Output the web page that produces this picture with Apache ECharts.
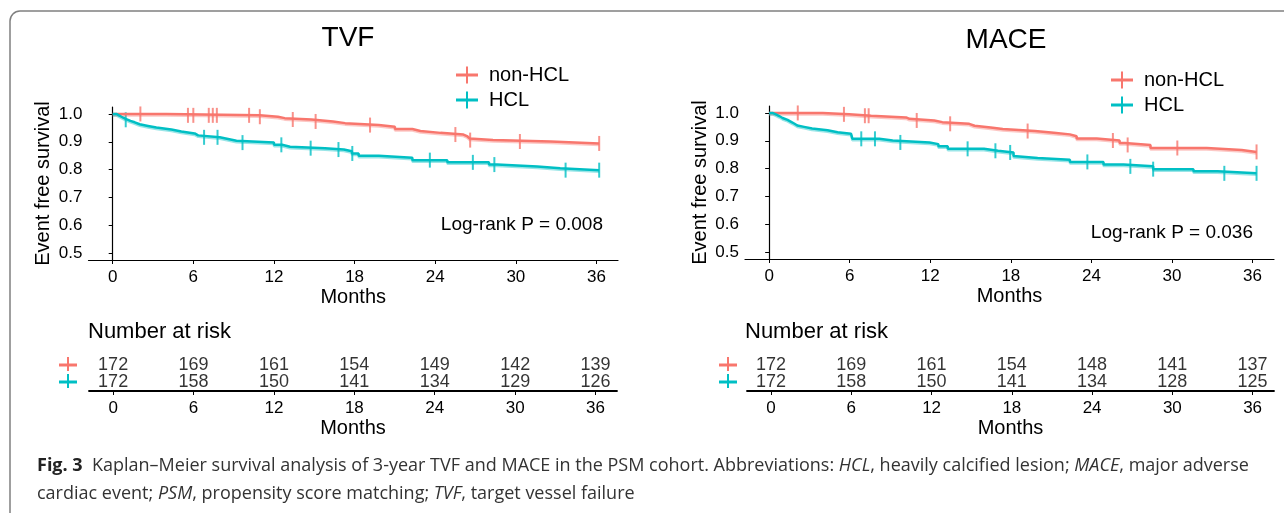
<!DOCTYPE html>
<html>
<head>
<meta charset="utf-8">
<script src="https://cdn.jsdelivr.net/npm/echarts@6/dist/echarts.min.js"></script>
<style>
  html, body { margin: 0; padding: 0; background: #fff; }
  #chart { width: 1284px; height: 513px; }
</style>
</head>
<body>
<div id="chart"></div>
<script>
// Kaplan-Meier steps, [month, survival]
var tvfNonHcl = [[0,1],[4.0,0.995],[10.95,0.990],[12.3,0.985],[12.8,0.980],[14.8,0.973],[16.4,0.967],[17.3,0.960],[19.8,0.954],[21.0,0.946],[22.3,0.939],[22.9,0.932],[24.4,0.926],[26.1,0.919],[26.4,0.912],[26.55,0.906],[28.3,0.901],[32.6,0.894],[36.2,0.894]];
var tvfHcl = [[0,1],[0.27,0.995],[0.47,0.990],[0.65,0.984],[0.89,0.979],[1.14,0.975],[1.32,0.970],[1.64,0.963],[2.01,0.957],[2.63,0.951],[3.25,0.944],[4.37,0.937],[5.11,0.930],[6.1,0.923],[6.36,0.916],[7.97,0.910],[8.59,0.904],[9.21,0.897],[12.0,0.889],[12.6,0.882],[13.2,0.877],[15.8,0.872],[17.2,0.866],[17.8,0.858],[18.3,0.850],[19.8,0.843],[22.3,0.834],[24.9,0.826],[28.0,0.818],[28.6,0.811],[31.6,0.805],[33.3,0.798],[36.2,0.798]];
var maceNonHcl = [[0,1],[4.0,0.995],[5.96,0.990],[7.6,0.984],[10.2,0.979],[10.45,0.973],[12.3,0.967],[12.9,0.961],[14.9,0.954],[15.3,0.948],[16.5,0.942],[17.4,0.935],[19.8,0.929],[21.2,0.923],[22.4,0.916],[22.9,0.908],[24.4,0.901],[26.1,0.892],[26.5,0.885],[28.4,0.874],[32.6,0.867],[35.2,0.860],[36.3,0.860]];
var maceHcl = [[0,1],[0.25,0.995],[0.5,0.989],[0.75,0.982],[1.0,0.975],[1.37,0.969],[1.6,0.962],[1.86,0.955],[2.1,0.950],[2.6,0.944],[3.2,0.938],[4.35,0.931],[5.1,0.925],[6.1,0.918],[6.2,0.907],[8.2,0.901],[9.2,0.894],[11.95,0.888],[12.6,0.880],[13.3,0.871],[16.0,0.864],[17.05,0.858],[18.2,0.845],[18.3,0.838],[20.0,0.832],[22.4,0.824],[24.9,0.815],[26.4,0.808],[28.6,0.798],[31.6,0.790],[33.4,0.783],[36.3,0.783]];

// censored times (months)
var tvfNonCens = [2.06,5.6,6.0,7.15,7.45,7.75,10.15,10.95,13.4,15.1,19.15,25.5,26.6,30.3,36.2];
var tvfHclCens = [0.97,6.8,7.8,9.66,12.55,14.73,16.8,17.83,23.6,26.8,28.4,33.7,36.2];
var maceNonCens = [2.13,5.57,7.13,7.41,10.99,13.48,19.25,25.6,26.7,30.4,36.3];
var maceHclCens = [6.86,7.88,9.77,14.78,16.85,17.95,23.7,26.9,28.6,33.9,36.3];

// number at risk
var months = [0, 6, 12, 18, 24, 30, 36];
var tvfRiskNon = [172,169,161,154,149,142,139];
var tvfRiskHcl = [172,158,150,141,134,129,126];
var maceRiskNon = [172,169,161,154,148,141,137];
var maceRiskHcl = [172,158,150,141,134,128,125];

var yTicks = [0.5, 0.6, 0.7, 0.8, 0.9, 1.0];
var groups = ['non-HCL', 'HCL'];

var RED = '#F8766D', TEAL = '#00BFC4';
var FONT = '"Liberation Sans", Arial, sans-serif';
var CAPFONT = '"Open Sans", sans-serif';

function survAt(curve, t) {
   var s = 1;
   for (var i = 0; i < curve.length; i++) {
      if (curve[i][0] <= t) s = curve[i][1];
   }
   return s;
}

function censPoints(curve, times) {
   return times.map(function (t) { return [t, survAt(curve, t)]; });
}

function riskPoints(values, row) {
   return values.map(function (v, i) { return [months[i], row, v]; });
}

function kmXAxis(gi) {
   return {
      type: 'value', gridIndex: gi, min: -1.8, max: 37.6,
      axisLine: { show: true, onZero: false, lineStyle: { color: '#000', width: 1.2 } },
      axisTick: { show: true, customValues: months, length: 4, lineStyle: { color: '#000' } },
      axisLabel: { customValues: months, color: '#000', fontSize: 17, fontFamily: FONT, margin: 9 },
      splitLine: { show: false },
      name: 'Months', nameLocation: 'middle', nameGap: 27,
      nameTextStyle: { color: '#000', fontSize: 20, fontFamily: FONT }
   };
}

function kmYAxis(gi) {
   return {
      type: 'value', gridIndex: gi, min: 0.475, max: 1.025,
      axisLine: { show: true, lineStyle: { color: '#000', width: 1.2 } },
      axisTick: { show: true, customValues: yTicks, length: 4, lineStyle: { color: '#000' } },
      axisLabel: {
         customValues: yTicks, color: '#000', fontSize: 17, fontFamily: FONT, margin: 6,
         formatter: function (v) { return v.toFixed(1); }
      },
      splitLine: { show: false },
      name: 'Event free survival', nameLocation: 'middle', nameGap: 35, nameRotate: 90,
      nameTextStyle: { color: '#000', fontSize: 20, fontFamily: FONT }
   };
}

function riskXAxis(gi) {
   var ax = kmXAxis(gi);
   ax.axisLine.lineStyle.width = 1.8;
   return ax;
}

function riskYAxis(gi) {
   return {
      type: 'category', gridIndex: gi, data: ['HCL', 'non-HCL'],
      axisLine: { show: false }, axisTick: { show: false }, axisLabel: { show: false },
      splitLine: { show: false }
   };
}

function kmLine(name, data, color, gi) {
   return {
      type: 'line', name: name, step: 'end', data: data,
      xAxisIndex: gi, yAxisIndex: gi, showSymbol: false, silent: true,
      itemStyle: { color: color },
      lineStyle: { color: color, width: 2.5, shadowColor: color + '66', shadowOffsetY: 1.5, shadowBlur: 0 }
   };
}

function censMarks(name, data, color, gi) {
   return {
      type: 'scatter', name: name + ' censored', data: data,
      xAxisIndex: gi, yAxisIndex: gi, symbol: 'rect', symbolSize: [2, 15],
      itemStyle: { color: color }, silent: true
   };
}

function riskNumbers(data, gi) {
   return {
      type: 'scatter', data: data, xAxisIndex: gi, yAxisIndex: gi, symbolSize: 0, silent: true,
      label: {
         show: true, position: 'inside', color: '#000', fontSize: 18, fontFamily: FONT,
         formatter: function (p) { return p.value[2]; }
      }
   };
}

var plusPath = 'path://M0,7L22,7L22,10L0,10Z M10,0L12,0L12,17L10,17Z';

function legendBox(left, top) {
   return {
      data: groups, orient: 'vertical', left: left, top: top,
      icon: plusPath, itemWidth: 22, itemHeight: 17, itemGap: 5,
      selectedMode: false,
      textStyle: { color: '#000', fontSize: 20, fontFamily: FONT, padding: [0, 0, 0, 6] }
   };
}

function plusKey(x, y, color) {
   return {
      type: 'group', children: [
         { type: 'rect', shape: { x: x - 9, y: y - 1.5, width: 18, height: 3 }, style: { fill: color } },
         { type: 'rect', shape: { x: x - 1, y: y - 8, width: 2, height: 14 }, style: { fill: color } }
      ]
   };
}

function label(text, x, y, size, align) {
   return {
      type: 'text', x: x, y: y,
      style: { text: text, fill: '#000', font: size + 'px ' + FONT, textAlign: align || 'center', textVerticalAlign: 'middle' }
   };
}

var chart = echarts.init(document.getElementById('chart'));

chart.setOption({
   animation: false,
   grid: [
      { left: 88.5, top: 107, width: 529.5, height: 153 },
      { left: 745, top: 106, width: 529, height: 153 },
      { left: 89, top: 356, width: 528, height: 35 },
      { left: 747, top: 356, width: 527, height: 35 }
   ],
   xAxis: [kmXAxis(0), kmXAxis(1), riskXAxis(2), riskXAxis(3)],
   yAxis: [kmYAxis(0), kmYAxis(1), riskYAxis(2), riskYAxis(3)],
   legend: [legendBox(451, 60), legendBox(1106, 65)],
   series: [
      kmLine('non-HCL', tvfNonHcl, RED, 0),
      kmLine('HCL', tvfHcl, TEAL, 0),
      censMarks('non-HCL', censPoints(tvfNonHcl, tvfNonCens), RED, 0),
      censMarks('HCL', censPoints(tvfHcl, tvfHclCens), TEAL, 0),
      kmLine('non-HCL', maceNonHcl, RED, 1),
      kmLine('HCL', maceHcl, TEAL, 1),
      censMarks('non-HCL', censPoints(maceNonHcl, maceNonCens), RED, 1),
      censMarks('HCL', censPoints(maceHcl, maceHclCens), TEAL, 1),
      riskNumbers(riskPoints(tvfRiskNon, 1).concat(riskPoints(tvfRiskHcl, 0)), 2),
      riskNumbers(riskPoints(maceRiskNon, 1).concat(riskPoints(maceRiskHcl, 0)), 3)
   ],
   graphic: [
      {
         type: 'rect', z: -10, silent: true,
         shape: { x: 10, y: 11, width: 1300, height: 530, r: 10 },
         style: { fill: 'none', stroke: '#808080', lineWidth: 1.5 }
      },
      label('TVF', 348, 38, 28),
      label('MACE', 1006, 40, 28),
      label('Log-rank P = 0.008', 603, 225, 19, 'right'),
      label('Log-rank P = 0.036', 1253, 233, 19, 'right'),
      label('Number at risk', 88, 332, 22, 'left'),
      label('Number at risk', 745, 332, 22, 'left'),
      plusKey(68, 365, RED),
      plusKey(68, 382, TEAL),
      plusKey(728, 365, RED),
      plusKey(728, 382, TEAL),
      {
         type: 'text', x: 37, y: 452,
         style: {
            text: '{b|Fig. 3}  Kaplan–Meier survival analysis of 3-year TVF and MACE in the PSM cohort. Abbreviations: {i|HCL}, heavily calcified lesion; {i|MACE}, major adverse\n' +
                  'cardiac event; {i|PSM}, propensity score matching; {i|TVF}, target vessel failure',
            font: '18px ' + CAPFONT, fill: '#333', lineHeight: 28,
            textVerticalAlign: 'top',
            rich: {
               b: { fontWeight: 'bold', fontSize: 18, fontFamily: CAPFONT, fill: '#222', lineHeight: 28 },
               i: { fontStyle: 'italic', fontSize: 18, fontFamily: CAPFONT, fill: '#333', lineHeight: 28 }
            }
         }
      }
   ]
});
</script>
</body>
</html>
